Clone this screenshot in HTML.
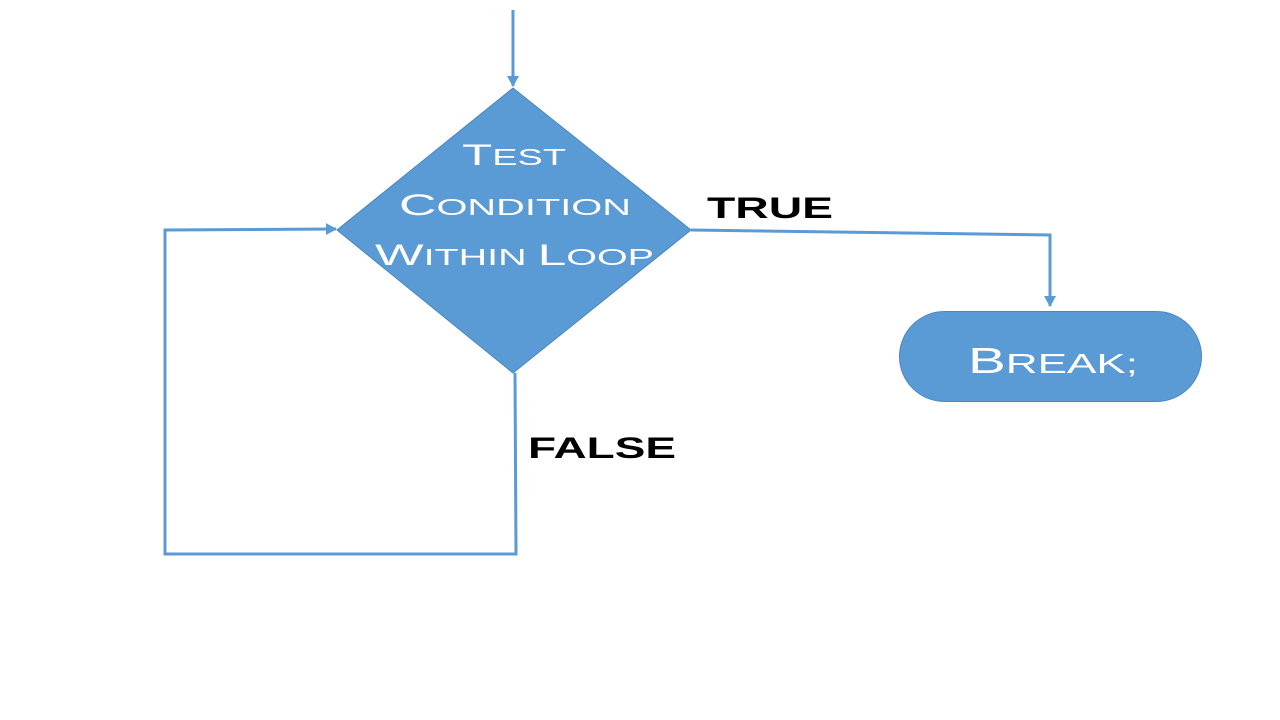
<!DOCTYPE html>
<html><head><meta charset="utf-8"><style>html,body{margin:0;padding:0;background:#fff}svg{display:block}</style></head>
<body>
<svg width="1280" height="720" viewBox="0 0 1280 720" xmlns="http://www.w3.org/2000/svg" font-family="Liberation Sans, sans-serif" font-weight="normal">
<defs>
<marker id="a" markerWidth="14" markerHeight="14" refX="10" refY="6" orient="auto" markerUnits="userSpaceOnUse">
<path d="M0,0 L11,6 L0,12 z" fill="#5b9bd5"/>
</marker>
</defs>
<g stroke="#5b9bd5" stroke-width="3" fill="none">
<line x1="513" y1="10" x2="513" y2="86" marker-end="url(#a)"/>
<polyline points="691,230 1050,235 1050,306" marker-end="url(#a)"/>
<polyline points="515,373 516,554 165,554 165,230 336,229" marker-end="url(#a)"/>
</g>
<polygon points="513,88 691,230 513,373 337,230" fill="#5b9bd5" stroke="#4a86bf" stroke-width="1"/>
<rect x="899.5" y="311.5" width="302" height="90" rx="45" fill="#5b9bd5" stroke="#4a86bf" stroke-width="1"/>
<g fill="#fff">
<text x="462" y="165" textLength="104" lengthAdjust="spacingAndGlyphs" font-size="30">T<tspan font-size="23">EST</tspan></text>
<text x="399" y="215" textLength="232" lengthAdjust="spacingAndGlyphs" font-size="30">C<tspan font-size="23">ONDITION</tspan></text>
<text x="375" y="265" textLength="279" lengthAdjust="spacingAndGlyphs" font-size="30">W<tspan font-size="23">ITHIN </tspan>L<tspan font-size="23">OOP</tspan></text>
<text x="968" y="373" textLength="170" lengthAdjust="spacingAndGlyphs" font-size="36">B<tspan font-size="28">REAK;</tspan></text>
</g>
<g fill="#000" font-weight="bold">
<text x="707" y="218" textLength="126" lengthAdjust="spacingAndGlyphs" font-size="30">TRUE</text>
<text x="528" y="458" textLength="148" lengthAdjust="spacingAndGlyphs" font-size="30">FALSE</text>
</g>
</svg>
</body></html>
